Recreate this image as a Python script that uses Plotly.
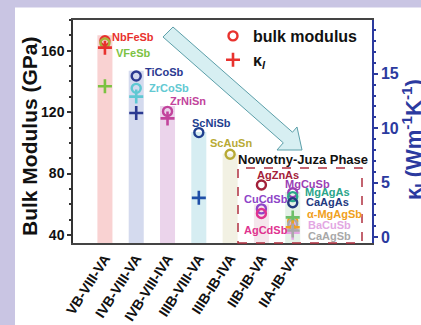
import plotly.graph_objects as go

# ---------------- data ----------------
categories = ["VB-VIII-VA", "IVB-VIII-VA", "IVB-VIII-IVA", "IIIB-VIII-VA",
              "IIIB-IB-IVA", "IIB-IB-VA", "IIA-IB-VA"]
bar_tops = [170, 147, 124, 107, 93, 60, 68]
bar_colors = ["#f9d2d2", "#d4daee", "#ebd4eb", "#d6edf2", "#f2f1e3", "#f5e6ec", "#e4f1e7"]

compounds = ["NbFeSb", "VFeSb", "TiCoSb", "ZrCoSb", "ZrNiSn", "ScNiSb", "ScAuSn",
             "AgZnAs", "CuCdSb", "AgCdSb", "MgCuSb", "MgAgAs", "CaAgAs",
             "α-MgAgSb", "BaCuSb", "CaAgSb"]
group = [0, 0, 1, 1, 2, 3, 4, 5, 5, 5, 6, 6, 6, 6, 6, 6]
bulk_modulus = [166.5, 165.0, 143.5, 135.5, 120.5, 106.7, 92.6,
                72.6, 57.0, 54.0, 67.5, 65.0, 61.0, 49.0, 45.0, 47.0]
kappa_l = [17.4, 13.85, 11.4, 12.9, 10.9, 3.6, None,
           None, None, None, None, 1.8, None, 0.9, 0.4, 0.6]
colors = ["#e8322e", "#a8b43a", "#2b3990", "#5fc8d3", "#c2449c", "#1f3f8f", "#b8aa35",
          "#a3213a", "#8e44c8", "#e0338f", "#9b3fb5", "#2aa58a", "#23397f",
          "#f0a020", "#e3a7e3", "#a8a8a8"]
plus_colors = ["#e8322e", "#7cc242", "#2b3990", "#5fc8d3", "#c2449c", "#1f4fa8", "#b8aa35",
               "#a3213a", "#8e44c8", "#e0338f", "#9b3fb5", "#6cbf6a", "#23397f",
               "#f0a020", "#e3a7e3", "#a8a8a8"]
label_colors = ["#e8322e", "#7cc242", "#2b3990", "#62c9d2", "#c2449c", "#1f3f8f", "#b8aa35",
                "#a3213a", "#8e44c8", "#e0338f", "#9b3fb5", "#2aa58a", "#23397f",
                "#f0a020", "#e3a7e3", "#a8a8a8"]

y_left_ticks = [40, 80, 120, 160]
y_right_ticks = [0, 5, 10, 15, 20]

# ---------------- layout geometry (pixels) ----------------
W, H = 421, 325
L, R, T, B = 73, 372, 20, 243
XR = [-1.02, 8.533]
YR = [34.8, 180.0]
Y2R = [-0.55, 19.94]


def px(xp):
    return (xp - L) / (R - L)


def py(yp):
    return (B - yp) / (B - T)


# label positions (left px, centre y px) -- styling only
label_pos = [(110, 37), (114, 53), (143, 72), (147, 88), (168, 101), (190, 123), (208, 143),
             (255, 175), (242, 199), (242, 230), (283, 184), (303, 192), (304, 202),
             (305, 214), (306, 225), (306, 236)]

FONT = "Liberation Sans, Arial, sans-serif"
BLUE = "#2b3a9f"
LAV = "#c9c5e3"

fig = go.Figure()

fig.add_trace(go.Bar(x=list(range(len(categories))), y=bar_tops, width=0.48,
                     marker=dict(color=bar_colors, line=dict(width=0)),
                     showlegend=False, hoverinfo="skip"))

fig.add_trace(go.Scatter(x=group, y=bulk_modulus, mode="markers",
                         marker=dict(symbol="circle-open", size=9, color=colors,
                                     line=dict(width=2.4)),
                         showlegend=False))

fig.add_trace(go.Scatter(x=group, y=kappa_l, mode="markers", yaxis="y2",
                         marker=dict(symbol="cross-thin-open", size=10, color=plus_colors,
                                     line=dict(width=2.6)),
                         showlegend=False))

# legend entries
fig.add_trace(go.Scatter(x=[None], y=[None], mode="markers", name="bulk modulus",
                         marker=dict(symbol="circle-open", size=9, color="#e8322e",
                                     line=dict(width=2.4))))
fig.add_trace(go.Scatter(x=[None], y=[None], mode="markers", name="κ<sub><i>l</i></sub>",
                         marker=dict(symbol="cross-thin-open", size=10, color="#e8322e",
                                     line=dict(width=2.6))))

annotations = []
for name, c, (lx, ly) in zip(compounds, label_colors, label_pos):
    annotations.append(dict(x=px(lx), y=py(ly), xref="paper", yref="paper", text=name,
                            xanchor="left", yanchor="middle", showarrow=False,
                            font=dict(family=FONT, size=11, color=c, weight="bold")))
annotations.append(dict(x=px(236), y=py(159), xref="paper", yref="paper",
                        text="Nowotny-Juza Phase", xanchor="left", yanchor="middle",
                        showarrow=False,
                        font=dict(family=FONT, size=13, color="#111111", weight="bold")))
annotations.append(dict(x=px(29), y=py(136), xref="paper", yref="paper",
                        text="Bulk Modulus (GPa)", textangle=-90, showarrow=False,
                        xanchor="center", yanchor="middle",
                        font=dict(family=FONT, size=21, color="#111111", weight="bold")))
annotations.append(dict(x=px(413), y=py(140), xref="paper", yref="paper",
                        text="κ<sub>l</sub> (Wm<sup>-1</sup>K<sup>-1</sup>)", textangle=-90,
                        showarrow=False, xanchor="center", yanchor="middle",
                        font=dict(family=FONT, size=22, color=BLUE, weight="bold")))

# arrow polygon (pixels)
arrow_pts = [(173, 27), (292.5, 132.2), (297, 127), (302, 150), (277, 150), (283.3, 142.8), (163, 37)]
arrow_path = "M " + " L ".join(f"{px(a):.4f},{py(b):.4f}" for a, b in arrow_pts) + " Z"

shapes = [
    dict(type="rect", xref="paper", yref="paper", x0=px(-5), x1=px(15), y0=py(H + 5), y1=py(-5),
         fillcolor=LAV, line=dict(width=0), layer="below"),
    dict(type="rect", xref="paper", yref="paper", x0=px(-5), x1=px(W + 5), y0=py(7.5), y1=py(-5),
         fillcolor=LAV, line=dict(width=0), layer="below"),
    dict(type="path", xref="paper", yref="paper", path=arrow_path,
         fillcolor="#d7eff2", line=dict(color="#5c9fa9", width=1), layer="above"),
    dict(type="rect", xref="paper", yref="paper", x0=px(238), x1=px(362), y0=py(243), y1=py(168),
         fillcolor="rgba(0,0,0,0)", line=dict(color="#b03040", width=1.5, dash="dash"),
         layer="above"),
]

fig.update_layout(
    template="none",
    width=W, height=H,
    margin=dict(l=L, r=W - R, t=T, b=H - B, pad=0, autoexpand=False),
    paper_bgcolor="white", plot_bgcolor="white",
    shapes=shapes, annotations=annotations,
    showlegend=True,
    legend=dict(x=px(213), y=py(19), xanchor="left", yanchor="top",
                bgcolor="rgba(0,0,0,0)", tracegroupgap=0,
                font=dict(family=FONT, size=16, color="#111111", weight="bold")),
    xaxis=dict(range=XR, tickvals=list(range(len(categories))), ticktext=categories,
               tickangle=-57, ticks="", showgrid=False, zeroline=False, automargin=False,
               showline=True, linecolor="#444444", linewidth=2, mirror=True,
               tickfont=dict(family=FONT, size=14, color="#111111", weight="bold")),
    yaxis=dict(range=YR, tickvals=y_left_ticks, ticks="outside", ticklen=4, tickwidth=1.5,
               tickcolor="#333333", showgrid=False, zeroline=False, automargin=False,
               showline=True, linecolor="#333333", linewidth=1.5,
               minor=dict(dtick=10, tick0=40, ticks="outside", ticklen=2, tickcolor="#333333",
                          showgrid=False),
               tickfont=dict(family=FONT, size=14, color="#111111", weight="bold")),
    yaxis2=dict(range=Y2R, tickvals=y_right_ticks, overlaying="y", side="right",
                ticks="outside", ticklen=4, tickwidth=1.5, tickcolor=BLUE, automargin=False,
                showgrid=False, zeroline=False, showline=True, linecolor=BLUE, linewidth=1.5,
                minor=dict(dtick=1, tick0=0, ticks="outside", ticklen=2, tickcolor=BLUE,
                           showgrid=False),
                tickfont=dict(family=FONT, size=16, color=BLUE, weight="bold")),
)

fig.write_html(
    "out.html",
    config={"displayModeBar": False},
    post_script="document.body.style.margin='0px';document.body.style.overflow='hidden';",
)
